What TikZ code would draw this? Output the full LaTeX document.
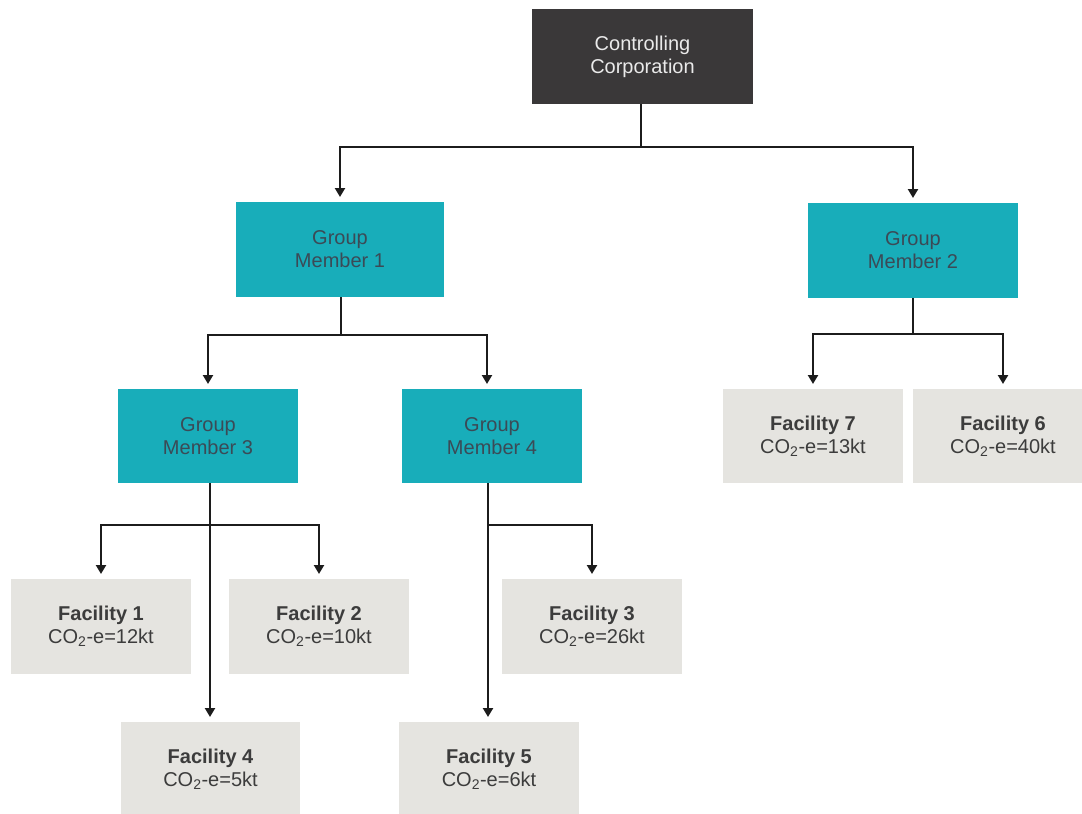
\documentclass[tikz,border=0pt]{standalone}
\usepackage{fontspec}
\setmainfont{Liberation Sans}
\usetikzlibrary{arrows.meta}

\definecolor{boxdark}{HTML}{3A3839}
\definecolor{boxteal}{HTML}{18ADBA}
\definecolor{boxgrey}{HTML}{E5E4E0}
\definecolor{textslate}{HTML}{3B4A56}
\definecolor{textgrey}{HTML}{3C3C3C}
\definecolor{textlight}{HTML}{EAEAEA}
\definecolor{wirecol}{HTML}{1C1C1C}

\tikzset{
  box/.style={anchor=north west, inner sep=0pt, outer sep=0pt, align=center,
    font=\fontsize{20}{23}\selectfont},
  corpbox/.style={box, fill=boxdark, text=textlight},
  memberbox/.style={box, fill=boxteal, text=textslate},
  facbox/.style={box, fill=boxgrey, text=textgrey},
  wire/.style={draw=wirecol, line width=2.4pt, line join=miter},
  arr/.style={wire, -{Triangle[width=10pt,length=9pt]}, shorten >=5pt},
}

\newcommand{\fac}[2]{\textbf{Facility #1}\\CO\textsubscript{2}-e=#2kt}

\begin{document}
\begin{tikzpicture}[x=1pt, y=-1pt]
  \clip (0,0) rectangle (1082,814);
  \fill[white] (0,0) rectangle (1082,814);

  % top level
  \node[corpbox, minimum width=221pt, minimum height=95pt] (cc) at (532,9) {Controlling\\Corporation};

  % group members
  \node[memberbox, minimum width=208pt, minimum height=95pt] (gm1) at (236,202) {Group\\Member 1};
  \node[memberbox, minimum width=210pt, minimum height=95pt] (gm2) at (808,203) {Group\\Member 2};
  \node[memberbox, minimum width=180pt, minimum height=94pt] (gm3) at (118,389) {Group\\Member 3};
  \node[memberbox, minimum width=180pt, minimum height=94pt] (gm4) at (402,389) {Group\\Member 4};

  % facilities
  \node[facbox, minimum width=180pt, minimum height=94pt] (f7) at (723,389) {\fac{7}{13}};
  \node[facbox, minimum width=180pt, minimum height=94pt] (f6) at (913,389) {\fac{6}{40}};
  \node[facbox, minimum width=180pt, minimum height=95pt] (f1) at (11,579) {\fac{1}{12}};
  \node[facbox, minimum width=180pt, minimum height=95pt] (f2) at (229,579) {\fac{2}{10}};
  \node[facbox, minimum width=180pt, minimum height=95pt] (f3) at (502,579) {\fac{3}{26}};
  \node[facbox, minimum width=179pt, minimum height=94pt] (f4) at (121,722) {\fac{4}{5}};
  \node[facbox, minimum width=180pt, minimum height=94pt] (f5) at (399,722) {\fac{5}{6}};

  % branch points
  \coordinate (b0) at (641,147);
  \coordinate (b1) at (341,335);
  \coordinate (b2) at (913,334);
  \coordinate (b3) at (210,525);
  \coordinate (b4) at (488,525);

  % corporation to members 1 and 2
  \draw[wire] (cc.south -| b0) -- (b0);
  \draw[arr] (b0) -| (gm1.north);
  \draw[arr] (b0) -| (gm2.north);

  % member 1 to members 3 and 4
  \draw[wire] (gm1.south -| b1) -- (b1);
  \draw[arr] (b1) -| (gm3.north);
  \draw[arr] (b1) -| ([xshift=-5pt]gm4.north);

  % member 2 to facilities 7 and 6
  \draw[wire] (gm2.south -| b2) -- (b2);
  \draw[arr] (b2) -| (f7.north);
  \draw[arr] (b2) -| (f6.north);

  % member 3 to facilities 1, 2 and 4
  \draw[arr] (gm3.south -| b3) -- (f4.north -| b3);
  \draw[arr] (b3) -| (f1.north);
  \draw[arr] (b3) -| (f2.north);

  % member 4 to facilities 3 and 5
  \draw[arr] (gm4.south -| b4) -- (f5.north -| b4);
  \draw[arr] (b4) -| (f3.north);
\end{tikzpicture}
\end{document}
